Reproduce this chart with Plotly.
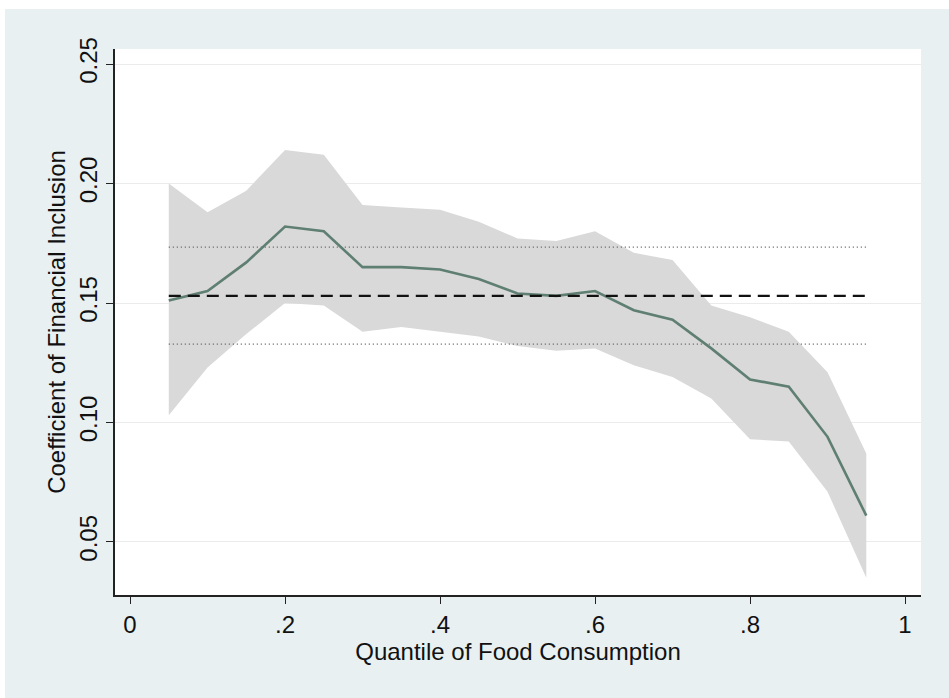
import plotly.graph_objects as go

# Quantile regression coefficients of financial inclusion across food-consumption quantiles
quantiles = [0.05, 0.10, 0.15, 0.20, 0.25, 0.30, 0.35, 0.40, 0.45, 0.50,
             0.55, 0.60, 0.65, 0.70, 0.75, 0.80, 0.85, 0.90, 0.95]
coef = [0.151, 0.155, 0.167, 0.182, 0.180, 0.165, 0.165, 0.164, 0.160, 0.154,
        0.153, 0.155, 0.147, 0.143, 0.131, 0.118, 0.115, 0.094, 0.061]
ci_upper = [0.200, 0.188, 0.197, 0.214, 0.212, 0.191, 0.190, 0.189, 0.184, 0.177,
            0.176, 0.180, 0.171, 0.168, 0.149, 0.144, 0.138, 0.121, 0.087]
ci_lower = [0.103, 0.123, 0.137, 0.150, 0.149, 0.138, 0.140, 0.138, 0.136, 0.132,
            0.130, 0.131, 0.124, 0.119, 0.110, 0.093, 0.092, 0.071, 0.035]

# OLS estimate and its confidence bounds
ols_coef = 0.1530
ols_upper = 0.1734
ols_lower = 0.1328

x_ticks = [0, 0.2, 0.4, 0.6, 0.8, 1.0]
x_tick_labels = ["0", ".2", ".4", ".6", ".8", "1"]
y_ticks = [0.05, 0.10, 0.15, 0.20, 0.25]
y_tick_labels = ["0.05", "0.10", "0.15", "0.20", "0.25"]

FONT = "Arial, Liberation Sans, sans-serif"
BG = "#E8F0F2"

fig = go.Figure()

# confidence band
fig.add_trace(go.Scatter(
    x=quantiles + quantiles[::-1],
    y=ci_upper + ci_lower[::-1],
    fill="toself", fillcolor="#D9D9D9",
    line=dict(width=0), mode="lines", hoverinfo="skip", showlegend=False,
))

# OLS confidence bounds (dotted)
x_span = [quantiles[0], quantiles[-1]]
for v in (ols_upper, ols_lower):
    fig.add_trace(go.Scatter(
        x=x_span, y=[v, v], mode="lines",
        line=dict(color="#555555", width=1.3, dash="1px,3px"),
        showlegend=False, hoverinfo="skip",
    ))

# quantile coefficient line
fig.add_trace(go.Scatter(
    x=quantiles, y=coef, mode="lines",
    line=dict(color="#5E7F72", width=2.6),
    showlegend=False,
))

# OLS coefficient (dashed)
fig.add_trace(go.Scatter(
    x=x_span, y=[ols_coef, ols_coef], mode="lines",
    line=dict(color="#111111", width=2.2, dash="12px,7px"),
    showlegend=False, hoverinfo="skip",
))

W, H = 949, 698
ml, mr, mt, mb = 115, 28, 49, 103
pw, ph = W - ml - mr, H - mt - mb

def px_x(p):
    return (p - ml) / pw

def px_y(p):
    return (H - mb - p) / ph

fig.update_layout(
    width=W, height=H,
    margin=dict(l=ml, r=mr, t=mt, b=mb, pad=0),
    paper_bgcolor=BG, plot_bgcolor="white",
    font=dict(family=FONT, size=24, color="#111111"),
    shapes=[
        # thin white border strips around the outer panel
        dict(type="rect", xref="paper", yref="paper",
             x0=px_x(0), x1=px_x(W), y0=px_y(9), y1=px_y(-2),
             fillcolor="white", line=dict(width=0), layer="below"),
        dict(type="rect", xref="paper", yref="paper",
             x0=px_x(-2), x1=px_x(5), y0=px_y(H + 2), y1=px_y(0),
             fillcolor="white", line=dict(width=0), layer="below"),
    ],
    xaxis=dict(
        range=[-0.0194, 1.0206],
        tickvals=x_ticks, ticktext=x_tick_labels,
        ticks="outside", ticklen=7, tickwidth=1.3, tickcolor="#222222",
        showline=True, linecolor="#222222", linewidth=1.5,
        showgrid=False, zeroline=False,
        tickfont=dict(size=24),
        title=dict(text="Quantile of Food Consumption", font=dict(size=24), standoff=0),
    ),
    yaxis=dict(
        range=[0.0278, 0.2563],
        tickvals=y_ticks, ticktext=y_tick_labels, tickangle=-90,
        ticks="outside", ticklen=7, tickwidth=1.3, tickcolor="#222222",
        showline=True, linecolor="#222222", linewidth=1.5,
        showgrid=True, gridcolor="#EBEBEB", gridwidth=1.2,
        zeroline=False,
        tickfont=dict(size=24),
        title=dict(text="Coefficient of Financial Inclusion", font=dict(size=24), standoff=2),
    ),
)

fig.write_html("out.html")
